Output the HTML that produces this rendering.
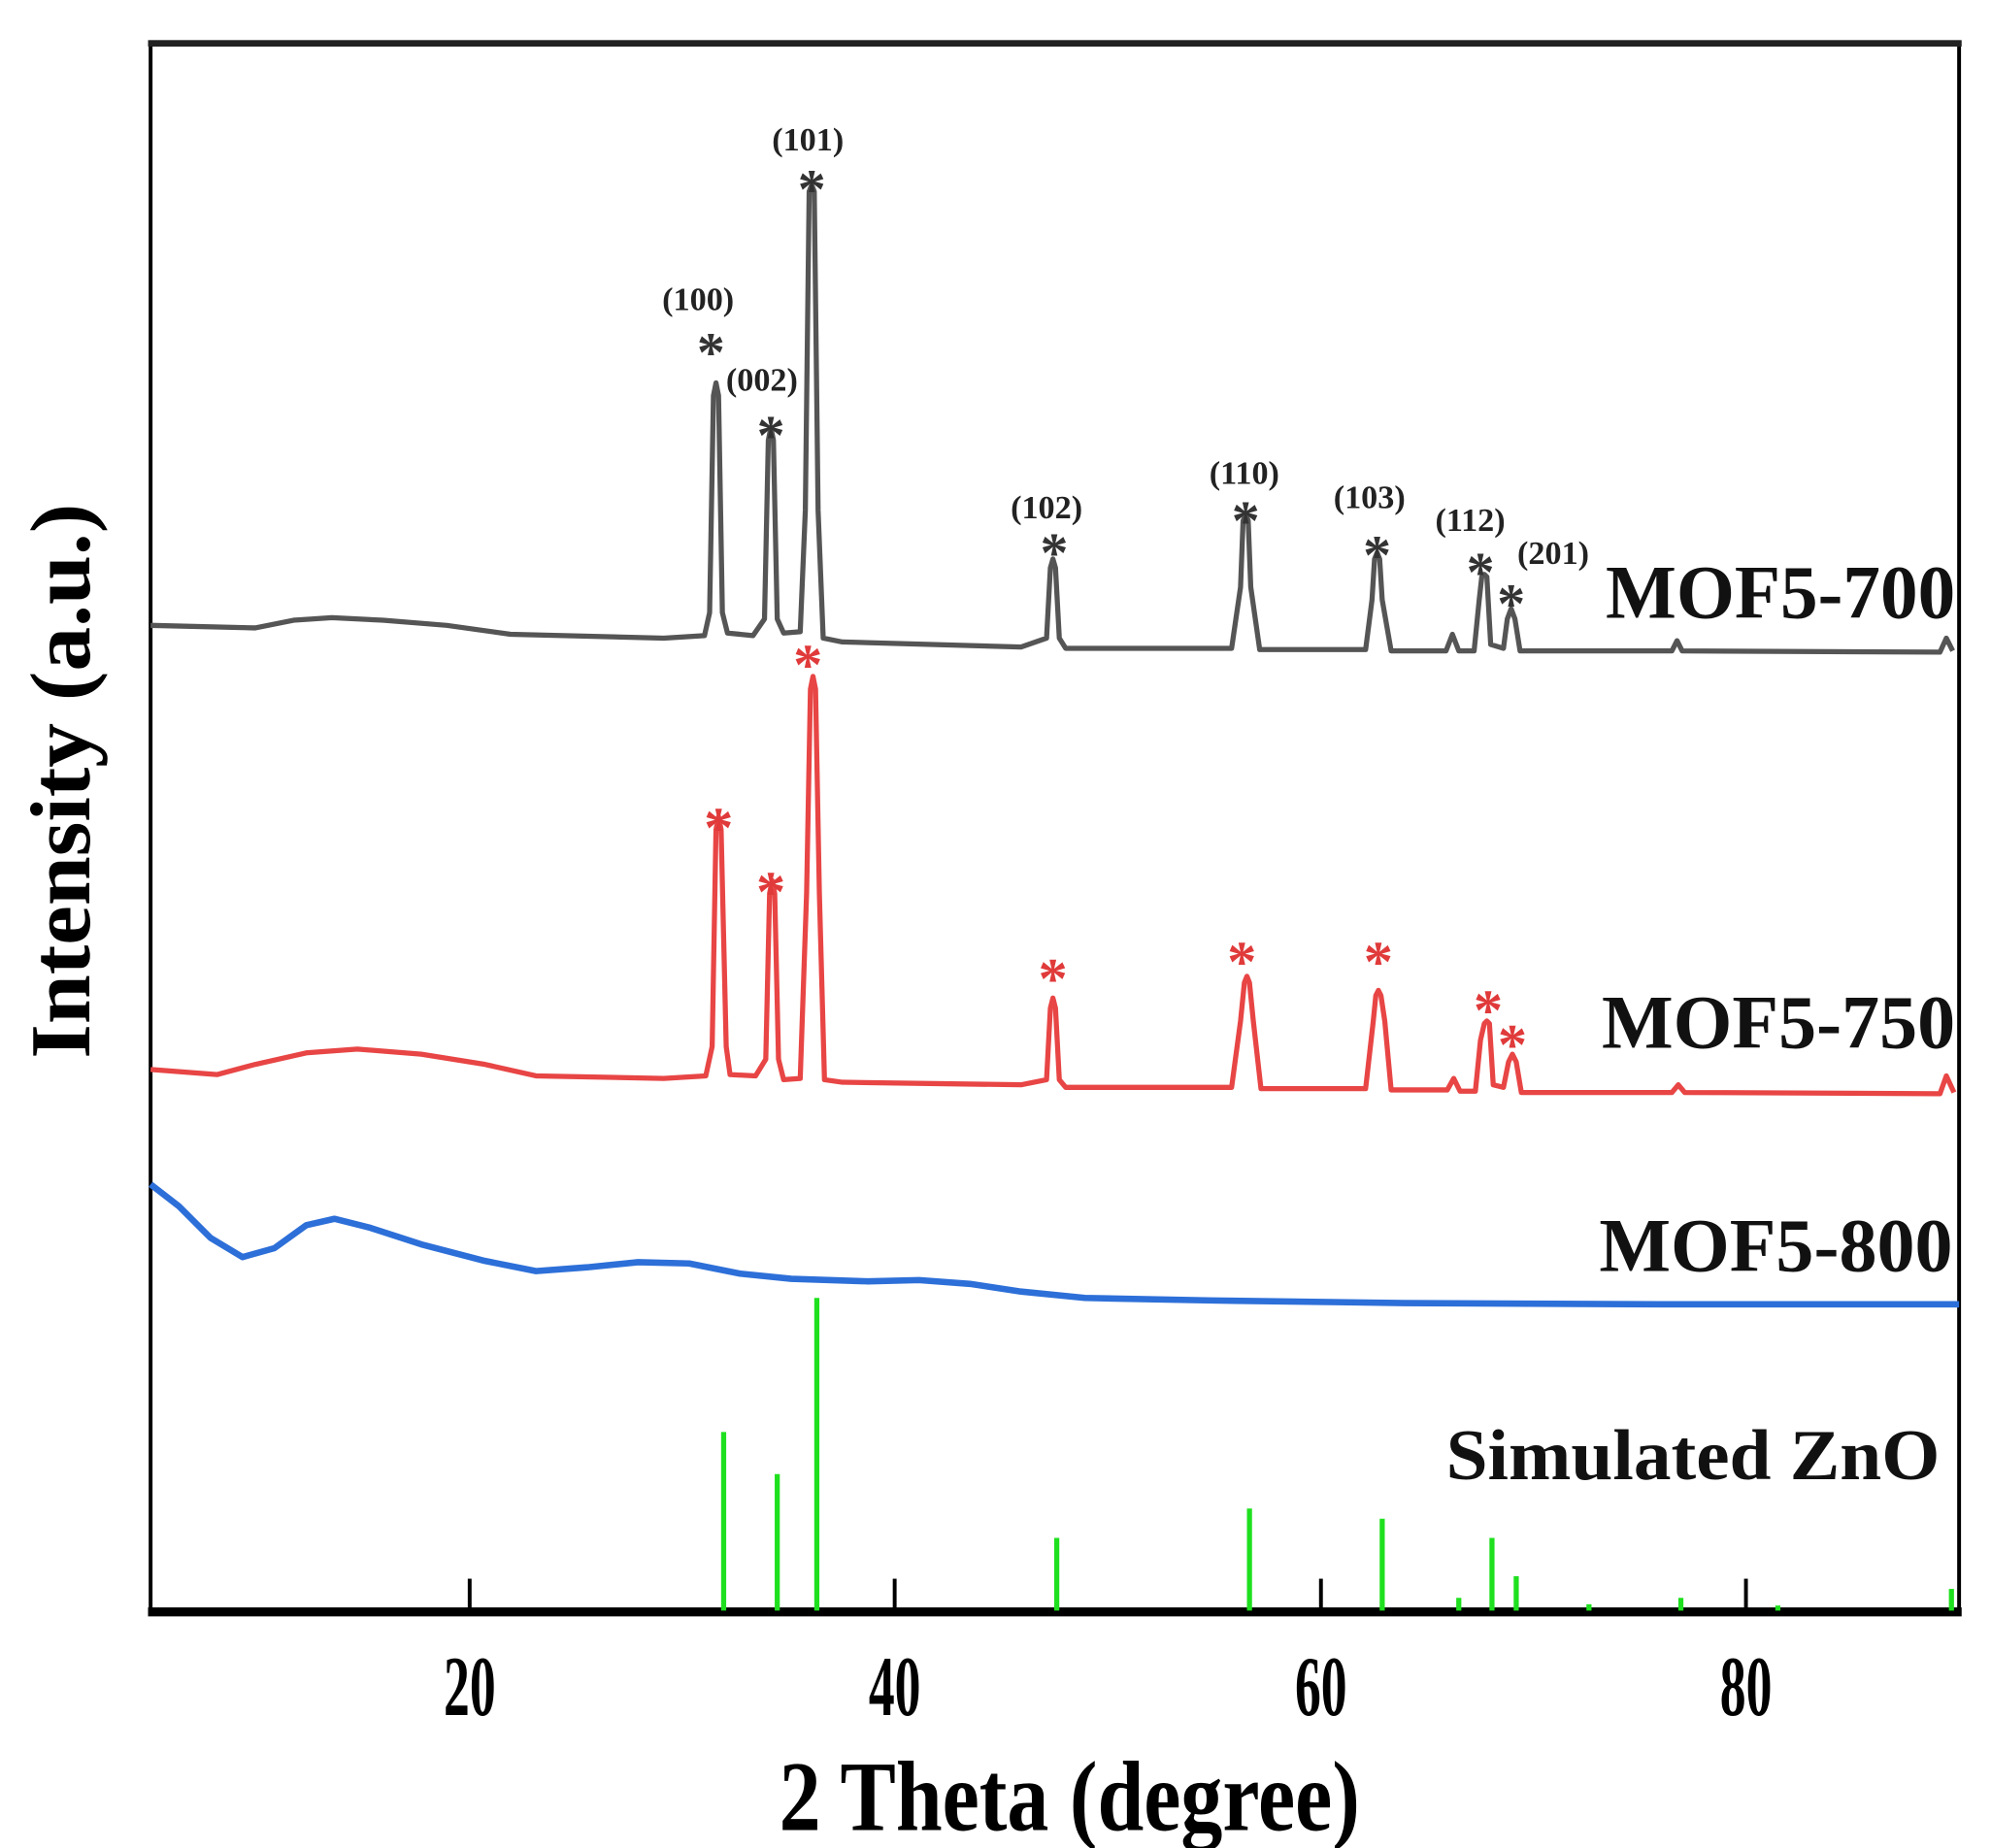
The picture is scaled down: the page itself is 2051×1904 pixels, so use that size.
<!DOCTYPE html>
<html><head><meta charset="utf-8"><style>
html,body{margin:0;padding:0;background:#fff;}
svg{display:block;}
text{font-family:"Liberation Serif",serif;font-weight:bold;}
</style></head><body>
<svg width="2051" height="1904" viewBox="0 0 1560 1448" preserveAspectRatio="none" xmlns="http://www.w3.org/2000/svg">
<rect width="1560" height="1448" fill="#fff"/>
<rect x="118" y="33" width="1417" height="1229" fill="none" stroke="#000" stroke-width="3"/>
<line x1="116" y1="34" x2="1537" y2="34" stroke="#222" stroke-width="5"/>
<line x1="116" y1="1263" x2="1537" y2="1263" stroke="#000" stroke-width="7"/>
<g stroke="#000" stroke-width="3">
<line x1="368" y1="1262" x2="368" y2="1237"/>
<line x1="701" y1="1262" x2="701" y2="1237"/>
<line x1="1035" y1="1262" x2="1035" y2="1237"/>
<line x1="1368" y1="1262" x2="1368" y2="1237"/>
</g>
<g font-size="48" text-anchor="middle" fill="#000">
<text transform="translate(368,1344) scale(0.85,1.4)">20</text>
<text transform="translate(701,1344) scale(0.85,1.4)">40</text>
<text transform="translate(1035,1344) scale(0.85,1.4)">60</text>
<text transform="translate(1368,1344) scale(0.85,1.4)">80</text>
</g>
<text transform="translate(838,1434) scale(1,1.4)" font-size="56" text-anchor="middle" textLength="455" lengthAdjust="spacingAndGlyphs">2 Theta (degree)</text>
<text transform="translate(70,612) rotate(-90) scale(1,1.2)" font-size="56" text-anchor="middle" textLength="435" lengthAdjust="spacingAndGlyphs">Intensity (a.u.)</text>

<g stroke="#1ee01e" stroke-width="4">
<line x1="567" y1="1262" x2="567" y2="1122"/>
<line x1="609" y1="1262" x2="609" y2="1155"/>
<line x1="640" y1="1262" x2="640" y2="1017"/>
<line x1="828" y1="1262" x2="828" y2="1205"/>
<line x1="979" y1="1262" x2="979" y2="1182"/>
<line x1="1083" y1="1262" x2="1083" y2="1190"/>
<line x1="1143" y1="1262" x2="1143" y2="1252"/>
<line x1="1169" y1="1262" x2="1169" y2="1205"/>
<line x1="1188" y1="1262" x2="1188" y2="1235"/>
<line x1="1245" y1="1262" x2="1245" y2="1257"/>
<line x1="1317" y1="1262" x2="1317" y2="1252"/>
<line x1="1393" y1="1262" x2="1393" y2="1258"/>
<line x1="1529" y1="1262" x2="1529" y2="1245"/>
</g>

<path d="M118,928 L140,945 L165,970 L190,985 L215,978 L240,960 L262,955 L290,962 L330,975 L380,988 L420,996 L460,993 L500,989 L540,990 L580,998 L620,1002 L680,1004 L720,1003 L760,1006 L800,1012 L850,1017 L950,1019 L1100,1021 L1300,1022 L1535,1022" fill="none" stroke="#2d6fd8" stroke-width="5" stroke-linejoin="round"/>

<path d="M118,838 L170,842 L200,834 L240,825 L280,822 L330,826 L380,834 L420,843 L520,845 L553,843 L558,820 L561,650 L563,640 L565,650 L569,820 L572,842 L592,843 L600,830 L603,700 L605,690 L607,700 L610,830 L614,846 L627,845 L632,700 L635,540 L637,530 L639,540 L642,700 L646,846 L660,848 L800,850 L820,846 L823,790 L825,782 L827,790 L830,846 L835,852 L965,852 L972,800 L975,770 L977,765 L979,770 L982,800 L988,853 L1070,853 L1076,800 L1078,780 L1080,776 L1082,780 L1085,800 L1090,854 L1134,854 L1139,845 L1144,855 L1156,855 L1160,815 L1163,802 L1165,800 L1167,802 L1170,850 L1178,852 L1182,832 L1185,826 L1188,832 L1192,856 L1310,856 L1315,850 L1320,856 L1520,857 L1525,843 L1531,856" fill="none" stroke="#e84545" stroke-width="4" stroke-linejoin="round"/>

<path d="M118,490 L200,492 L230,486 L260,484 L300,486 L350,490 L400,497 L520,500 L552,498 L556,480 L559,310 L561,300 L563,310 L566,480 L570,496 L590,498 L599,485 L602,345 L604,335 L606,345 L609,485 L614,496 L627,495 L631,400 L634,150 L636,145 L638,150 L641,400 L645,500 L660,503 L800,507 L820,500 L823,445 L825,438 L827,445 L830,500 L835,508 L965,508 L972,460 L974,408 L976,403 L978,408 L980,460 L987,509 L1070,509 L1075,470 L1077,438 L1079,433 L1081,438 L1083,470 L1090,510 L1133,510 L1138,497 L1143,510 L1155,510 L1159,470 L1161,452 L1163,450 L1165,452 L1168,505 L1178,508 L1181,485 L1184,477 L1187,485 L1191,510 L1310,510 L1314,502 L1318,510 L1520,511 L1525,500 L1530,510" fill="none" stroke="#555" stroke-width="4" stroke-linejoin="round"/>

<g font-size="26" fill="#222" text-anchor="middle">
<text x="547" y="243">(100)</text>
<text x="597" y="306">(002)</text>
<text x="633" y="118">(101)</text>
<text x="820" y="406">(102)</text>
<text x="975" y="379">(110)</text>
<text x="1073" y="398">(103)</text>
<text x="1152" y="416">(112)</text>
<text x="1217" y="442">(201)</text>
</g>
<g font-size="44" fill="#333" text-anchor="middle">
<text x="557" y="291">*</text>
<text x="604" y="356">*</text>
<text x="636" y="163">*</text>
<text x="826" y="448">*</text>
<text x="976" y="423">*</text>
<text x="1079" y="450">*</text>
<text x="1160" y="463">*</text>
<text x="1184" y="488">*</text>
</g>
<g font-size="46" fill="#e03a3a" text-anchor="middle">
<text x="563" y="664">*</text>
<text x="604" y="714">*</text>
<text x="633" y="536">*</text>
<text x="825" y="782">*</text>
<text x="973" y="769">*</text>
<text x="1080" y="769">*</text>
<text x="1166" y="807">*</text>
<text x="1185" y="834">*</text>
</g>

<g font-size="60" fill="#111">
<text x="1258" y="484" textLength="274" lengthAdjust="spacingAndGlyphs">MOF5-700</text>
<text x="1255" y="821" textLength="277" lengthAdjust="spacingAndGlyphs">MOF5-750</text>
<text x="1253" y="996" textLength="277" lengthAdjust="spacingAndGlyphs">MOF5-800</text>
<text x="1133" y="1159" font-size="56" textLength="387" lengthAdjust="spacingAndGlyphs">Simulated ZnO</text>
</g>
</svg>
</body></html>
